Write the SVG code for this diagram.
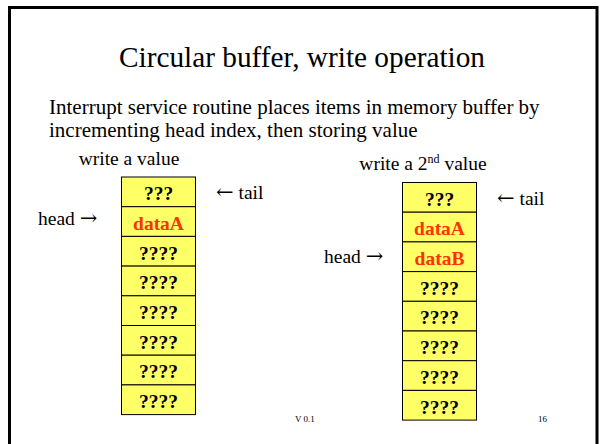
<svg xmlns="http://www.w3.org/2000/svg" width="605" height="444" viewBox="0 0 605 444">
  <style>
    text { font-family: "Liberation Serif", "Times New Roman", serif; fill: #000; }
    .title { font-size: 29.3px; }
    .body { font-size: 21px; }
    .lbl { font-size: 19.5px; }
    .arr { font-family: "DejaVu Serif", serif; font-size: 21px; }
    .cell rect { fill: #ffff66; stroke: #000; stroke-width: 1; }
    .cell text { font-size: 19.5px; font-weight: bold; text-anchor: middle; }
    .cell text.data { fill: #ff3300; }
    .foot { font-size: 9px; }
  </style>
  <rect width="605" height="444" fill="#fff"/>
  <!-- slide frame -->
  <rect x="9.5" y="7.5" width="587.5" height="460" fill="none" stroke="#000" stroke-width="3"/>

  <text class="title" x="302" y="67" text-anchor="middle">Circular buffer, write operation</text>
  <text class="body" x="49" y="114">Interrupt service routine places items in memory buffer by</text>
  <text class="body" x="49" y="137">incrementing head index, then storing value</text>

  <!-- first buffer -->
  <g id="buffer1">
    <text class="lbl" x="129" y="165" text-anchor="middle">write a value</text>
    <g class="cell"><rect x="121.5" y="177" width="74" height="29.7"/><text x="158.5" y="200">???</text></g>
    <g class="cell"><rect x="121.5" y="206.7" width="74" height="29.7"/><text class="data" x="158.5" y="229.5">dataA</text></g>
    <g class="cell"><rect x="121.5" y="236.4" width="74" height="29.7"/><text x="158.5" y="259.5">????</text></g>
    <g class="cell"><rect x="121.5" y="266.1" width="74" height="29.7"/><text x="158.5" y="289">????</text></g>
    <g class="cell"><rect x="121.5" y="295.8" width="74" height="29.7"/><text x="158.5" y="319">????</text></g>
    <g class="cell"><rect x="121.5" y="325.5" width="74" height="29.7"/><text x="158.5" y="348.5">????</text></g>
    <g class="cell"><rect x="121.5" y="355.2" width="74" height="29.7"/><text x="158.5" y="378">????</text></g>
    <g class="cell"><rect x="121.5" y="384.9" width="74" height="29.7"/><text x="158.5" y="408">????</text></g>
    <text class="lbl" x="216" y="199"><tspan class="arr">←</tspan> tail</text>
    <text class="lbl" x="38" y="225">head <tspan class="arr">→</tspan></text>
  </g>

  <!-- second buffer -->
  <g id="buffer2">
    <text class="lbl" x="423" y="170" text-anchor="middle">write a 2<tspan font-size="12" dy="-7">nd</tspan><tspan dy="7"> value</tspan></text>
    <g class="cell"><rect x="402.5" y="182.5" width="74" height="29.7"/><text x="439.5" y="205.5">???</text></g>
    <g class="cell"><rect x="402.5" y="212.2" width="74" height="29.7"/><text class="data" x="439.5" y="235">dataA</text></g>
    <g class="cell"><rect x="402.5" y="241.9" width="74" height="29.7"/><text class="data" x="439.5" y="264.5">dataB</text></g>
    <g class="cell"><rect x="402.5" y="271.6" width="74" height="29.7"/><text x="439.5" y="294.5">????</text></g>
    <g class="cell"><rect x="402.5" y="301.3" width="74" height="29.7"/><text x="439.5" y="324">????</text></g>
    <g class="cell"><rect x="402.5" y="331" width="74" height="29.7"/><text x="439.5" y="354">????</text></g>
    <g class="cell"><rect x="402.5" y="360.7" width="74" height="29.7"/><text x="439.5" y="383.5">????</text></g>
    <g class="cell"><rect x="402.5" y="390.4" width="74" height="29.7"/><text x="439.5" y="413.5">????</text></g>
    <text class="lbl" x="497" y="205"><tspan class="arr">←</tspan> tail</text>
    <text class="lbl" x="324" y="263">head <tspan class="arr">→</tspan></text>
  </g>

  <text class="foot" x="295" y="422">V 0.1</text>
  <text class="foot" x="538" y="422">16</text>
</svg>
